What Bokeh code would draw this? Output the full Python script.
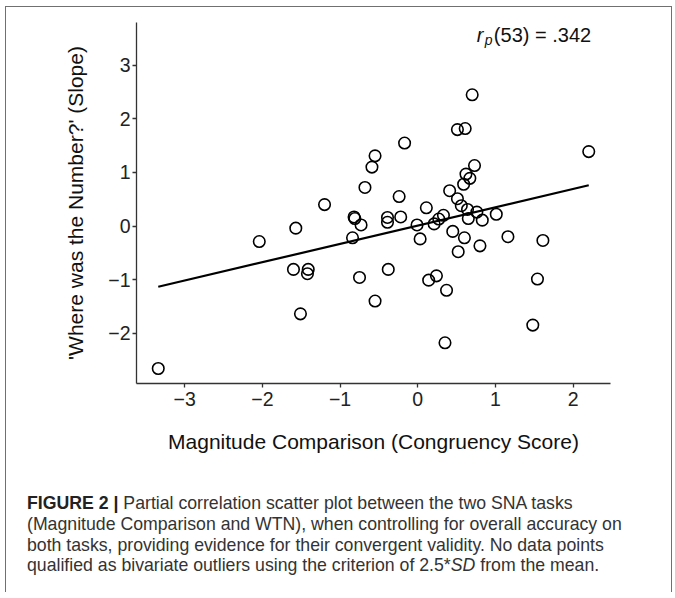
from bokeh.plotting import figure
from bokeh.models import Range1d, Label, Div, FixedTicker
from bokeh.layouts import column
from bokeh.embed import file_html
from bokeh.resources import INLINE

# ---- data ----
mag_comparison = [-3.34, -2.04, -1.57, -1.20, -1.60, -1.41, -1.42, -1.51, -0.84, -0.82,
                  -0.81, -0.73, -0.75, -0.55, -0.38, -0.68, -0.24, -0.39, -0.39, -0.22,
                  -0.17, -0.55, -0.59, 0.11, -0.01, 0.03, 0.73, 0.62, 0.67, 0.59,
                  0.41, 0.51, 0.56, 0.64, 0.76, 1.01, 0.33, 0.27, 0.21, 0.65,
                  0.83, 0.45, 0.60, 1.16, 1.61, 0.80, 0.52, 0.70, 0.51, 0.61,
                  2.20, 0.14, 0.24, 0.37, 1.54, 1.48, 0.35]
wtn_slope = [-2.66, -0.29, -0.04, 0.40, -0.81, -0.81, -0.89, -1.64, -0.22, 0.17,
             0.14, 0.02, -0.96, -1.40, -0.81, 0.72, 0.55, 0.16, 0.07, 0.17,
             1.55, 1.31, 1.10, 0.34, 0.02, -0.24, 1.13, 0.97, 0.89, 0.78,
             0.66, 0.51, 0.38, 0.31, 0.26, 0.22, 0.20, 0.13, 0.04, 0.14,
             0.11, -0.10, -0.22, -0.20, -0.27, -0.37, -0.48, 2.45, 1.80, 1.82,
             1.39, -1.01, -0.93, -1.20, -0.99, -1.85, -2.18]
fit_x = [-3.34, 2.20]
fit_y = [-1.134, 0.761]

x_ticks = [-3, -2, -1, 0, 1, 2]
y_ticks = [-2, -1, 0, 1, 2, 3]
x_tick_labels = ["\u22123", "\u22122", "\u22121", "0", "1", "2"]
y_tick_labels = ["\u22122", "\u22121", "0", "1", "2", "3"]

x_label = "Magnitude Comparison (Congruency Score)"
y_label = "'Where was the Number?' (Slope)"
stat_r = "r"
stat_sub = "p"
stat_rest = "(53) = .342"

FONT = "Liberation Sans"
AX = "#333333"

p = figure(width=655, height=472, output_backend="svg", toolbar_location=None,
           x_range=Range1d(-3.62, 2.48), y_range=Range1d(-2.94, 3.80),
           min_border_left=130, min_border_right=51, min_border_top=15,
           min_border_bottom=96)
p.outline_line_color = None
p.grid.visible = False
p.background_fill_color = "white"
p.border_fill_color = "white"

for ax, ticks, labels in ((p.xaxis[0], x_ticks, x_tick_labels), (p.yaxis[0], y_ticks, y_tick_labels)):
    ax.ticker = FixedTicker(ticks=ticks)
    ax.major_label_overrides = {t: l for t, l in zip(ticks, labels)}
    ax.axis_line_color = AX
    ax.axis_line_width = 1.3
    ax.major_tick_line_color = AX
    ax.major_tick_line_width = 1.3
    ax.major_tick_out = 4
    ax.major_tick_in = 0
    ax.minor_tick_line_color = None
    ax.major_label_text_font = FONT
    ax.major_label_text_font_size = "19.5px"
    ax.major_label_text_color = "#222222"
    ax.axis_label_text_font = FONT
    ax.axis_label_text_font_size = "21px"
    ax.axis_label_text_font_style = "normal"
    ax.axis_label_text_color = "#111111"

p.xaxis.axis_label = x_label
p.yaxis.axis_label = y_label
p.xaxis.major_label_standoff = 4
p.yaxis.major_label_standoff = 2
p.xaxis.axis_label_standoff = 21
p.yaxis.axis_label_standoff = 18

p.line(fit_x, fit_y, line_color="black", line_width=2.2)
p.scatter(mag_comparison, wtn_slope, marker="circle", size=11.5, fill_color=None,
          line_color="black", line_width=1.6)

ax0, ay0 = 0.76, 3.56
p.add_layout(Label(x=ax0, y=ay0, text=stat_r, text_font=FONT, text_font_size="20px",
                   text_font_style="italic", text_baseline="alphabetic", text_color="#111111"))
p.add_layout(Label(x=ax0, y=ay0, x_offset=8, y_offset=-5, text=stat_sub, text_font=FONT,
                   text_font_size="14px", text_font_style="italic", text_baseline="alphabetic",
                   text_color="#111111"))
p.add_layout(Label(x=ax0, y=ay0, x_offset=17, text=stat_rest, text_font=FONT,
                   text_font_size="20px", text_baseline="alphabetic", text_color="#111111"))

caption = (
    "<div style=\"font-family:'Liberation Sans',Arial,sans-serif;font-size:17.7px;"
    "line-height:20.8px;color:#333333;padding-left:16px;padding-top:9px;white-space:nowrap;\">"
    "<b style=\"color:#222\">FIGURE 2 |</b> Partial correlation scatter plot between the two SNA tasks<br>"
    "(Magnitude Comparison and WTN), when controlling for overall accuracy on<br>"
    "both tasks, providing evidence for their convergent validity. No data points<br>"
    "qualified as bivariate outliers using the criterion of 2.5*<i>SD</i> from the mean."
    "</div>"
)
div = Div(text=caption, width=655, height=103)

layout = column(p, div, margin=(6, 0, 0, 5),
                styles={"border-top": "1px solid #707070", "border-left": "1px solid #707070",
                        "border-right": "1px solid #707070"})

open("out.html", "w").write(file_html(layout, INLINE))
